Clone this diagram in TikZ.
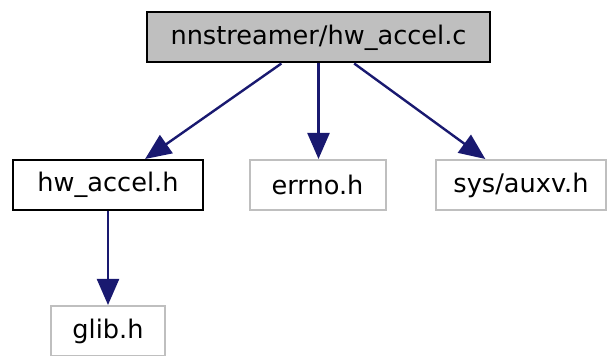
\documentclass[tikz,border=0pt]{standalone}
\usepackage{fontspec}
\setmainfont{DejaVu Sans}
\usetikzlibrary{arrows.meta}
\definecolor{edgeblue}{HTML}{191970}
\definecolor{boxgray}{HTML}{BFBFBF}

\begin{document}
\begin{tikzpicture}[x=0.5pt,y=-0.5pt,>={Triangle[length=13pt,width=11pt]},
  every node/.style={align=center,font=\fontsize{12.8pt}{14pt}\selectfont,minimum height=25pt,inner sep=0pt},
  file/.style={draw=black,line width=1pt,fill=white},
  curfile/.style={draw=black,line width=1pt,fill=boxgray},
  extfile/.style={draw=boxgray,line width=1pt,fill=white},
  dep/.style={->,draw=edgeblue,line width=1.2pt}]
\useasboundingbox (0,0) rectangle (607,356);
\node[curfile,minimum width=171.5pt] (c) at (318.5,37.5) {nnstreamer/hw\_accel.c};
\node[file,minimum width=95pt] (hw) at (108,185) {hw\_accel.h};
\node[extfile,minimum width=68pt] (errno) at (317.5,185) {errno.h};
\node[extfile,minimum width=85pt] (auxv) at (521,185) {sys/auxv.h};
\node[extfile,minimum width=57pt] (glib) at (108,331) {glib.h};
\draw[dep] (c) -- (hw);
\draw[dep] (c.south) -- (c.south |- errno.north);
\draw[dep] (c) -- (auxv);
\draw[dep] (hw) -- (glib);
\end{tikzpicture}
\end{document}
